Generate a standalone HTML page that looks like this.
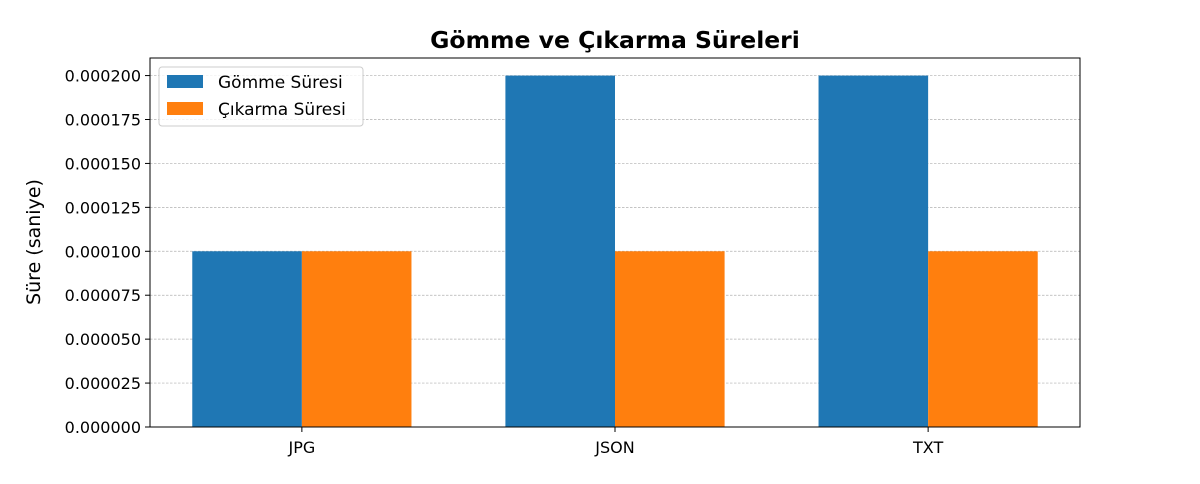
<!DOCTYPE html>
<html><head><meta charset="utf-8"><style>
body{margin:0;background:#fff;font-family:"DejaVu Sans","Liberation Sans",sans-serif;}
svg text{font-family:"DejaVu Sans","Liberation Sans",sans-serif;}
</style></head><body>
<svg id="chart" width="1200" height="480">
<text x="615" y="48" text-anchor="middle" font-size="23.5" font-weight="bold">Gömme ve Çıkarma Süreleri</text>
<text x="40" y="242" text-anchor="middle" font-size="19" transform="rotate(-90 40 242)">Süre (saniye)</text>
<g id="grid"></g><g id="bars"></g><g id="axes"></g>
<rect x="150" y="58" width="930" height="369" fill="none" stroke="#000" stroke-width="1"/>
<g>
<rect x="159" y="67" width="204" height="59" fill="#fff" fill-opacity="0.8" stroke="#ccc" rx="3"/>
<rect x="167" y="75" width="36" height="13" fill="#1f77b4"/>
<text x="218" y="88" font-size="17">Gömme Süresi</text>
<rect x="167" y="102" width="36" height="13" fill="#ff7f0e"/>
<text x="218" y="115" font-size="17">Çıkarma Süresi</text>
</g>
</svg>
<script>
const categories=["JPG","JSON","TXT"];
const gommeValues=[0.0001,0.0002,0.0002];
const cikarmaValues=[0.0001,0.0001,0.0001];
const yTicks=[0,0.000025,0.00005,0.000075,0.0001,0.000125,0.00015,0.000175,0.0002];
const NS="http://www.w3.org/2000/svg";
const X0=150,X1=1080,Y0=427,Y1=58,YMAX=0.00021,XMIN=-0.485,XMAX=2.485,BW=0.35;
const sx=v=>X0+(v-XMIN)/(XMAX-XMIN)*(X1-X0);
const sy=v=>Y0-v/YMAX*(Y0-Y1);
function mk(t,a,p){const e=document.createElementNS(NS,t);for(const k in a)e.setAttribute(k,a[k]);p.appendChild(e);return e;}
const grid=document.getElementById('grid'),bars=document.getElementById('bars'),axes=document.getElementById('axes');
yTicks.forEach(v=>{
 const y=sy(v);
 const g=mk('line',{x1:X0,x2:X1,y1:y,y2:y,stroke:'#b0b0b0','stroke-width':0.7,'stroke-dasharray':'2.5,1.5'},grid);
 
 
 mk('line',{x1:X0-5,x2:X0,y1:y,y2:y,stroke:'#000'},axes);
 const t=mk('text',{x:X0-9,y:y+6,'text-anchor':'end','font-size':16},axes);
 t.textContent=v.toFixed(6);
 
 
});
categories.forEach((c,i)=>{
 const r1=mk('rect',{x:sx(i-BW),y:sy(gommeValues[i]),width:sx(i)-sx(i-BW),height:Y0-sy(gommeValues[i]),fill:'#1f77b4'},bars);
 
 
 const r2=mk('rect',{x:sx(i),y:sy(cikarmaValues[i]),width:sx(i+BW)-sx(i),height:Y0-sy(cikarmaValues[i]),fill:'#ff7f0e'},bars);
 
 
 const x=sx(i);
 mk('line',{x1:x,x2:x,y1:Y0,y2:Y0+5,stroke:'#000'},axes);
 const t=mk('text',{x:x,y:Y0+26,'text-anchor':'middle','font-size':16},axes);
 t.textContent=c;
 
 
});
</script>
</body></html>
